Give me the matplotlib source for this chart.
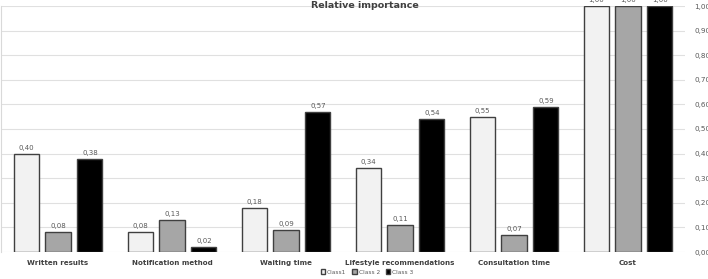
import numpy as np
import matplotlib.pyplot as plt
from matplotlib.ticker import FuncFormatter

categories = ["Written results", "Notification method", "Waiting time",
              "Lifestyle recommendations", "Consultation time", "Cost"]
series_names = ["Class1", "Class 2", "Class 3"]
class1 = [0.40, 0.08, 0.18, 0.34, 0.55, 1.00]
class2 = [0.08, 0.13, 0.09, 0.11, 0.07, 1.00]
class3 = [0.38, 0.02, 0.57, 0.54, 0.59, 1.00]
colors = ["#f2f2f2", "#a6a6a6", "#000000"]

fig = plt.figure(figsize=(7.08, 2.79), dpi=100)
ax = fig.add_axes([1 / 708, 27 / 279, 684 / 708, 246 / 279])

x = np.arange(len(categories))
width = 0.22
step = 0.28
for i, (vals, name, c) in enumerate(zip([class1, class2, class3], series_names, colors)):
    pos = x + (i - 1) * step
    bars = ax.bar(pos, vals, width, color=c, edgecolor="#404040", linewidth=1.0,
                  label=name, zorder=3)
    for b, v in zip(bars, vals):
        ax.text(b.get_x() + b.get_width() / 2, v + 0.012, f"{v:.2f}".replace(".", ","),
                ha="center", va="bottom", fontsize=5, color="#595959", clip_on=False)

ax.set_xlim(-0.5, len(categories) - 0.5)
ax.set_ylim(0, 1.0)
ax.set_yticks(np.arange(0, 1.01, 0.1))
ax.yaxis.set_major_formatter(FuncFormatter(lambda v, p: f"{v:.2f}".replace(".", ",")))
ax.yaxis.tick_right()
ax.tick_params(axis="y", length=0, labelsize=5.2, labelcolor="#595959", pad=6.5)
ax.set_xticks(x)
ax.set_xticklabels(categories, fontsize=5.1, fontweight="bold", color="#404040")
ax.tick_params(axis="x", length=0, pad=6)
ax.grid(axis="y", color="#e0e0e0", linewidth=0.8, zorder=0)
for s in ["top", "right", "bottom"]:
    ax.spines[s].set_visible(False)
ax.spines["left"].set_color("#d9d9d9")
ax.spines["left"].set_linewidth(0.8)

fig.text(365 / 708, 1 - 6 / 279, "Relative importance", ha="center", va="center",
         fontsize=6.8, fontweight="bold", color="#404040")

fig.legend(loc="center", bbox_to_anchor=(367 / 708, 1 - 272 / 279), ncol=3,
           fontsize=4.2, frameon=False, handlelength=0.8, handleheight=0.8,
           handletextpad=0.3, columnspacing=1.0, labelcolor="#595959")

fig.savefig("out.png", dpi=100)
